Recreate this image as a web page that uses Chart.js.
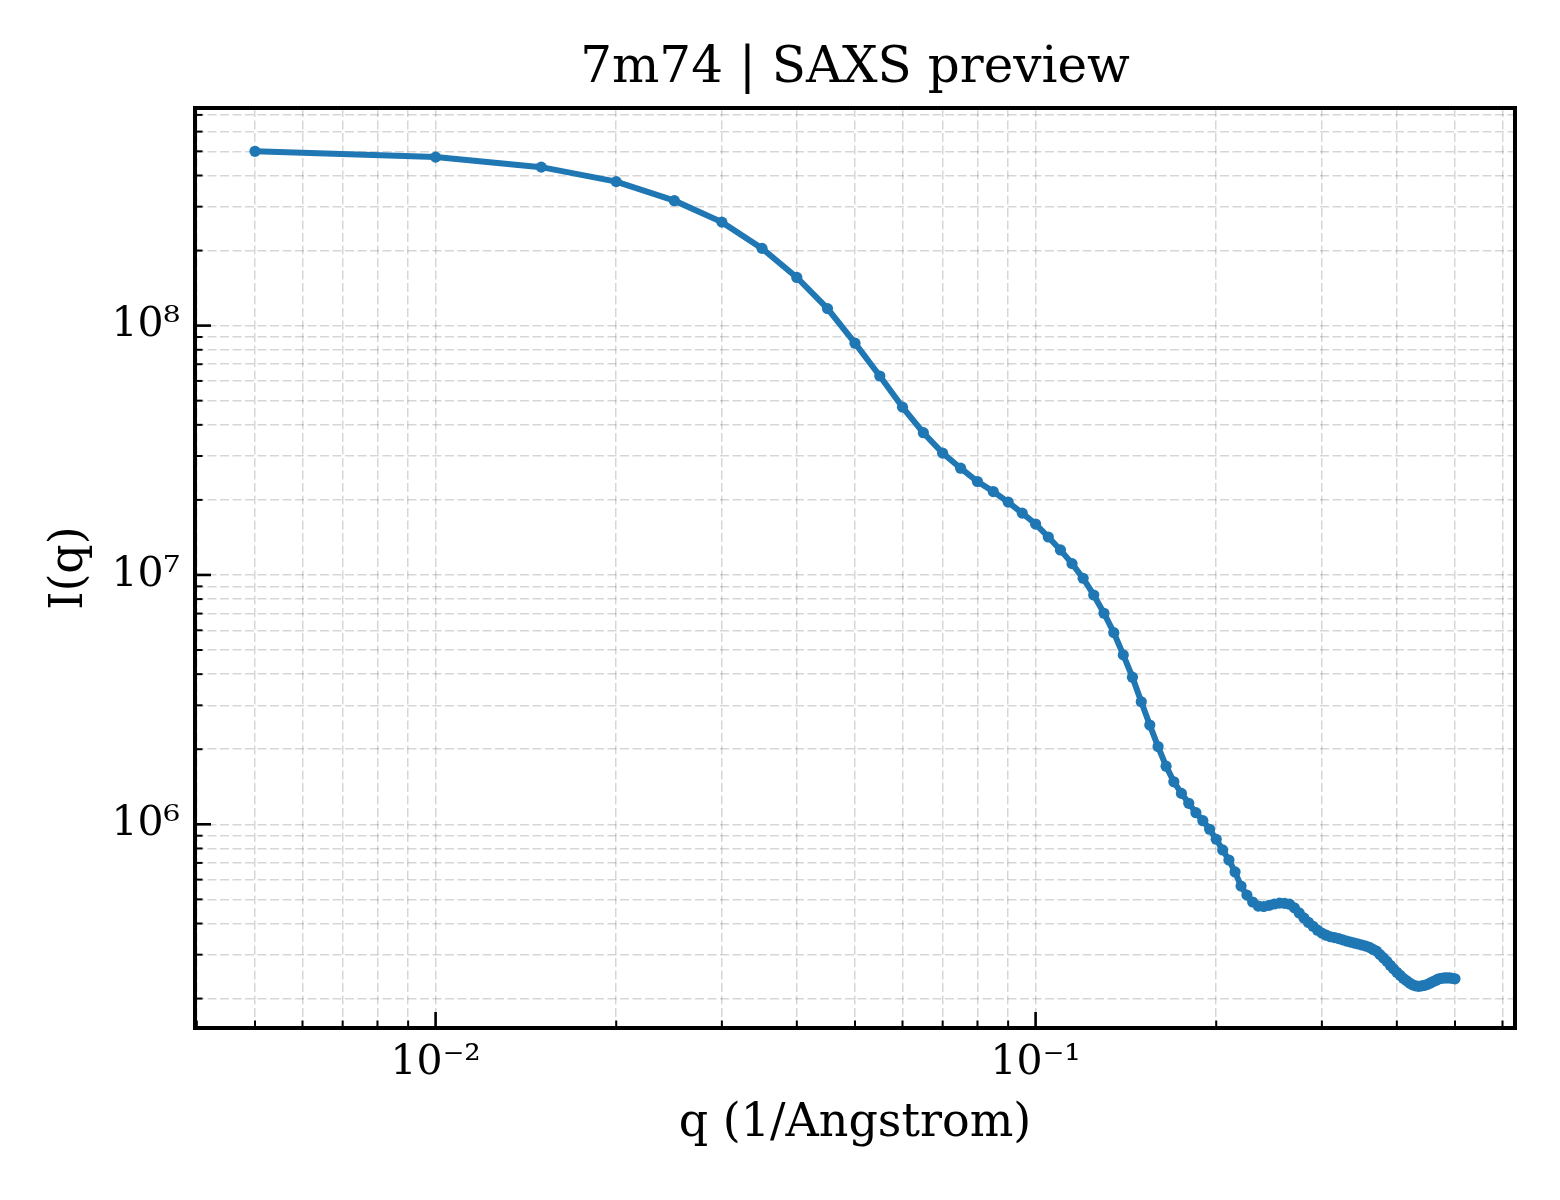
<!DOCTYPE html>
<html>
<head>
<meta charset="utf-8">
<title>7m74 | SAXS preview</title>
<script src="https://cdn.jsdelivr.net/npm/chart.js@4.4.1/dist/chart.umd.min.js"></script>
<style>
    html, body { margin: 0; padding: 0; background: #ffffff; }
    #wrap { width: 1560px; height: 1200px; }
</style>
</head>
<body>
<div id="wrap"><canvas id="saxsChart" width="1560" height="1200"></canvas></div>
<script>
// 7m74 SAXS preview - log/log intensity curve drawn with Chart.js

// scattering vector q (1/Angstrom)
const qValues = [
    0.005, 0.010, 0.015, 0.020, 0.025, 0.030, 0.035, 0.040, 0.045, 0.050,
    0.055, 0.060, 0.065, 0.070, 0.075, 0.080, 0.085, 0.090, 0.095, 0.100,
    0.105, 0.110, 0.115, 0.120, 0.125, 0.130, 0.135, 0.140, 0.145, 0.150,
    0.155, 0.160, 0.165, 0.170, 0.175, 0.180, 0.185, 0.190, 0.195, 0.200,
    0.205, 0.210, 0.215, 0.220, 0.225, 0.230, 0.235, 0.240, 0.245, 0.250,
    0.255, 0.260, 0.265, 0.270, 0.275, 0.280, 0.285, 0.290, 0.295, 0.300,
    0.305, 0.310, 0.315, 0.320, 0.325, 0.330, 0.335, 0.340, 0.345, 0.350,
    0.355, 0.360, 0.365, 0.370, 0.375, 0.380, 0.385, 0.390, 0.395, 0.400,
    0.405, 0.410, 0.415, 0.420, 0.425, 0.430, 0.435, 0.440, 0.445, 0.450,
    0.455, 0.460, 0.465, 0.470, 0.475, 0.480, 0.485, 0.490, 0.495, 0.500
];

// intensity I(q)
const intensity = [
    5.00e8, 4.74e8, 4.32e8, 3.78e8, 3.17e8, 2.60e8, 2.04e8, 1.56e8, 1.17e8, 8.50e7,
    6.28e7, 4.71e7, 3.72e7, 3.08e7, 2.68e7, 2.37e7, 2.16e7, 1.96e7, 1.77e7, 1.60e7,
    1.42e7, 1.26e7, 1.11e7, 9.70e6, 8.31e6, 7.02e6, 5.87e6, 4.78e6, 3.89e6, 3.10e6,
    2.50e6, 2.05e6, 1.71e6, 1.48e6, 1.33e6, 1.214e6, 1.113e6, 1.034e6, 9.55e5, 8.71e5,
    7.89e5, 7.19e5, 6.44e5, 5.65e5, 5.20e5, 4.88e5, 4.70e5, 4.68e5, 4.73e5, 4.79e5,
    4.83e5, 4.82e5, 4.78e5, 4.62e5, 4.41e5, 4.21e5, 4.04e5, 3.90e5, 3.76e5, 3.66e5,
    3.59e5, 3.54e5, 3.51e5, 3.48e5, 3.44e5, 3.40e5, 3.37e5, 3.34e5, 3.31e5, 3.28e5,
    3.25e5, 3.21e5, 3.15e5, 3.10e5, 3.00e5, 2.91e5, 2.82e5, 2.72e5, 2.63e5, 2.55e5,
    2.48e5, 2.41e5, 2.36e5, 2.31e5, 2.27e5, 2.25e5, 2.24e5, 2.25e5, 2.26e5, 2.28e5,
    2.31e5, 2.34e5, 2.37e5, 2.40e5, 2.41e5, 2.42e5, 2.42e5, 2.42e5, 2.41e5, 2.40e5
];

// labelled decades
const xMajorTicks = [0.01, 0.1];
const xTickLabels = ['10⁻²', '10⁻¹'];
const yMajorTicks = [1e6, 1e7, 1e8];
const yTickLabels = ['10⁶', '10⁷', '10⁸'];

// axis limits
const xLimits = [0.003972, 0.6295];
const yLimits = [1.524e5, 7.46e8];

const FONT = "'DejaVu Serif', 'Liberation Serif', serif";
const LINE_BLUE = '#1f77b4';

function isDecade(value) {
    const e = Math.log10(value);
    return Math.abs(e - Math.round(e)) < 1e-6;
}

// 1..9 x 10^n ticks inside the axis range (matplotlib style)
function logTicks(min, max) {
    const ticks = [];
    for (let e = Math.floor(Math.log10(min)); e <= Math.ceil(Math.log10(max)); e++) {
        for (let m = 1; m <= 9; m++) {
            const v = m * Math.pow(10, e);
            if (v >= min && v <= max) ticks.push({ value: v, major: m === 1 });
        }
    }
    return ticks;
}

function labelFor(majors, labels) {
    return function(value) {
        const i = majors.findIndex(t => Math.abs(Math.log10(t) - Math.log10(value)) < 1e-6);
        return i >= 0 ? labels[i] : '';
    };
}

// matplotlib-like frame with inward ticks on bottom and left
const frameTicks = {
    id: 'frameTicks',
    afterDatasetsDraw(chart) {
        const { ctx, chartArea: a, scales } = chart;
        ctx.save();
        ctx.strokeStyle = '#000000';
        ctx.lineCap = 'butt';

        scales.x.ticks.forEach(t => {
            const px = scales.x.getPixelForValue(t.value);
            const major = isDecade(t.value);
            ctx.lineWidth = major ? 2.6 : 2;
            ctx.beginPath();
            ctx.moveTo(px, a.bottom);
            ctx.lineTo(px, a.bottom - (major ? 16 : 7.5));
            ctx.stroke();
        });

        scales.y.ticks.forEach(t => {
            const py = scales.y.getPixelForValue(t.value);
            const major = isDecade(t.value);
            ctx.lineWidth = major ? 2.6 : 2;
            ctx.beginPath();
            ctx.moveTo(a.left, py);
            ctx.lineTo(a.left + (major ? 16 : 7.5), py);
            ctx.stroke();
        });

        ctx.lineWidth = 4;
        ctx.strokeRect(a.left, a.top, a.right - a.left, a.bottom - a.top);
        ctx.restore();
    }
};

Chart.defaults.color = '#000000';
Chart.defaults.font.family = FONT;

const points = qValues.map((q, i) => ({ x: q, y: intensity[i] }));

const ctx = document.getElementById('saxsChart').getContext('2d');
const saxsChart = new Chart(ctx, {
    type: 'line',
    data: {
        datasets: [{
            label: 'I(q)',
            data: points,
            borderColor: LINE_BLUE,
            backgroundColor: LINE_BLUE,
            borderWidth: 6,
            pointRadius: 5.6,
            pointBorderWidth: 0,
            pointBackgroundColor: LINE_BLUE,
            tension: 0,
            fill: false
        }]
    },
    options: {
        responsive: false,
        devicePixelRatio: 1,
        animation: false,
        layout: {
            padding: { left: 0, right: 45, top: 0, bottom: 0 }
        },
        plugins: {
            legend: { display: false },
            tooltip: { enabled: false },
            title: {
                display: true,
                text: '7m74 | SAXS preview',
                fullSize: false,
                color: '#000000',
                font: { family: FONT, size: 50, weight: 'normal' },
                padding: { top: 39, bottom: 9 }
            }
        },
        scales: {
            x: {
                type: 'logarithmic',
                position: 'bottom',
                min: xLimits[0],
                max: xLimits[1],
                afterBuildTicks: function(scale) {
                    scale.ticks = logTicks(scale.min, scale.max);
                },
                afterFit: function(scale) {
                    scale.height = 172;
                },
                grid: {
                    color: 'rgba(0, 0, 0, 0.16)',
                    lineWidth: 1.5,
                    drawTicks: false
                },
                border: { display: false, dash: [9, 3.5] },
                ticks: {
                    autoSkip: false,
                    maxRotation: 0,
                    minRotation: 0,
                    padding: 11,
                    color: '#000000',
                    font: { family: FONT, size: 41 },
                    callback: labelFor(xMajorTicks, xTickLabels)
                },
                title: {
                    display: true,
                    text: 'q (1/Angstrom)',
                    color: '#000000',
                    font: { family: FONT, size: 46 },
                    padding: { top: 0, bottom: 48 }
                }
            },
            y: {
                type: 'logarithmic',
                position: 'left',
                min: yLimits[0],
                max: yLimits[1],
                afterBuildTicks: function(scale) {
                    scale.ticks = logTicks(scale.min, scale.max);
                },
                afterFit: function(scale) {
                    scale.width = 195;
                },
                grid: {
                    color: 'rgba(0, 0, 0, 0.16)',
                    lineWidth: 1.5,
                    drawTicks: false
                },
                border: { display: false, dash: [9, 3.5] },
                ticks: {
                    autoSkip: false,
                    padding: 15,
                    color: '#000000',
                    font: { family: FONT, size: 41 },
                    callback: labelFor(yMajorTicks, yTickLabels)
                },
                title: {
                    display: true,
                    text: 'I(q)',
                    color: '#000000',
                    font: { family: FONT, size: 46 },
                    padding: { top: 42, bottom: 0 }
                }
            }
        }
    },
    plugins: [frameTicks]
});
</script>
</body>
</html>
